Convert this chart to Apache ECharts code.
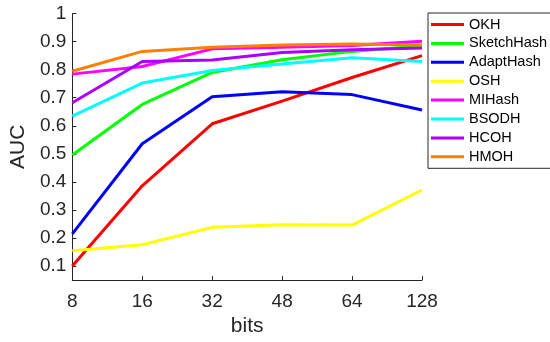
<!DOCTYPE html>
<html>
<head>
<meta charset="utf-8">
<script src="https://cdn.jsdelivr.net/npm/echarts@6/dist/echarts.min.js"></script>
<style>
html,body{margin:0;padding:0;background:#fff;}
#chart{width:550px;height:342px;}
</style>
</head>
<body>
<div id="chart"></div>
<script>
var categories = ['8', '16', '32', '48', '64', '128'];
var yTicks = [0.1, 0.2, 0.3, 0.4, 0.5, 0.6, 0.7, 0.8, 0.9, 1];

var OKH        = [0.100, 0.386, 0.607, 0.688, 0.772, 0.850];
var SketchHash = [0.496, 0.676, 0.790, 0.835, 0.865, 0.885];
var AdaptHash  = [0.215, 0.536, 0.703, 0.721, 0.711, 0.656];
var OSH        = [0.155, 0.176, 0.238, 0.247, 0.246, 0.371];
var MIHash     = [0.784, 0.811, 0.874, 0.880, 0.886, 0.901];
var BSODH      = [0.634, 0.752, 0.797, 0.820, 0.842, 0.829];
var HCOH       = [0.682, 0.829, 0.834, 0.861, 0.871, 0.877];
var HMOH       = [0.794, 0.865, 0.880, 0.888, 0.891, 0.888];

var seriesNames = ['OKH', 'SketchHash', 'AdaptHash', 'OSH', 'MIHash', 'BSODH', 'HCOH', 'HMOH'];
var seriesData = [OKH, SketchHash, AdaptHash, OSH, MIHash, BSODH, HCOH, HMOH];
var colors = ['#ff0000', '#00ff00', '#0000ff', '#ffff00', '#ff00ff', '#00ffff', '#aa00ff', '#ff8000'];

var FONT = "'Liberation Sans', Arial, Helvetica, sans-serif";
var AXC = '#262626';

var chart = echarts.init(document.getElementById('chart'), null, {renderer: 'canvas'});
chart.setOption({
  animation: false,
  backgroundColor: '#ffffff',
  color: colors,
  grid: {left: 68, right: 128, top: 13.5, bottom: 60, containLabel: false},
  legend: {
    orient: 'vertical',
    left: 428,
    top: 13,
    padding: [4, 4, 4, 3],
    itemWidth: 33,
    itemHeight: 3,
    itemGap: 3.9,
    icon: 'rect',
    backgroundColor: '#ffffff',
    borderColor: AXC,
    borderWidth: 1,
    borderRadius: 0,
    textStyle: {fontFamily: FONT, fontSize: 14.5, lineHeight: 14, color: '#000'},
    data: seriesNames
  },
  xAxis: {
    type: 'category',
    data: categories,
    boundaryGap: false,
    name: 'bits',
    nameLocation: 'middle',
    nameGap: 26,
    nameTextStyle: {fontFamily: FONT, fontSize: 21, color: AXC},
    axisLine: {lineStyle: {color: AXC, width: 1}},
    axisTick: {show: true, inside: true, length: 4, alignWithLabel: true, lineStyle: {color: AXC}},
    axisLabel: {fontFamily: FONT, fontSize: 19, color: AXC, margin: 12, showMaxLabel: true, showMinLabel: true, interval: 0},
    splitLine: {show: false}
  },
  yAxis: {
    type: 'value',
    min: 0.05,
    max: 1,
    name: 'AUC',
    nameLocation: 'middle',
    nameGap: 40,
    nameTextStyle: {fontFamily: FONT, fontSize: 21, color: AXC},
    axisLine: {show: true, lineStyle: {color: AXC, width: 1}},
    axisTick: {show: true, inside: true, length: 4, lineStyle: {color: AXC}, customValues: yTicks},
    axisLabel: {fontFamily: FONT, fontSize: 19, color: AXC, margin: 6, customValues: yTicks,
      formatter: function (v) { return String(Math.round(v * 10) / 10); }},
    splitLine: {show: false}
  },
  series: seriesNames.map(function (n, i) {
    return {
      name: n,
      type: 'line',
      data: seriesData[i],
      showSymbol: false,
      symbol: 'none',
      lineStyle: {width: 3, color: colors[i]},
      itemStyle: {color: colors[i]},
      z: 2 + i
    };
  })
});
</script>
</body>
</html>
